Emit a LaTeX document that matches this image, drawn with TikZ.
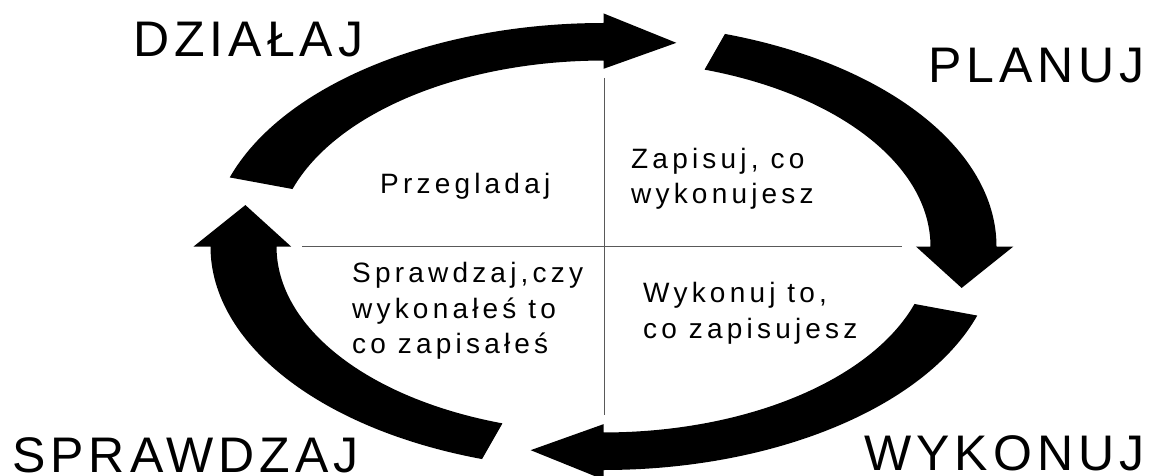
\documentclass[tikz,border=0pt]{standalone}
\usepackage{fontspec}
\setmainfont{Liberation Sans}
\newfontfamily\bigfnt[LetterSpace=10]{Liberation Sans}
\newfontfamily\smallfnt[LetterSpace=15]{Liberation Sans}
\newcommand\cyclearrow[1]{%
  \fill[cyclearrowstyle] (#1+72:1) arc[start angle=#1+72, end angle=#1, radius=1]
    -- (#1:1.043) -- (#1-11.5:0.93) -- (#1:0.795) -- (#1:0.832)
    arc[start angle=#1, end angle=#1+72, radius=0.832] -- cycle;}
\tikzset{
  cyclearrowstyle/.style={fill=black, draw=none},
  biglabel/.style={anchor=base west, inner sep=0pt, font=\bigfnt\fontsize{50}{60}\selectfont},
  quadtext/.style={anchor=base west, inner sep=0pt, font=\smallfnt\fontsize{28}{36}\selectfont},
  crossline/.style={draw=black!65, line width=1pt}
}
\begin{document}
\begin{tikzpicture}
\useasboundingbox (0,0) rectangle (1151pt,-476pt);
\fill[white] (0,0) rectangle (1151pt,-476pt);
% cross lines
\coordinate (hl) at (302pt,-246pt);
\coordinate (hr) at (902pt,-246pt);
\coordinate (vt) at (604pt,-78pt);
\coordinate (vb) at (604pt,-415pt);
\draw[crossline] (hl) -- (hr);
\draw[crossline] (vt) -- (vb);
% circular arrows
\begin{scope}[shift={(603.5pt,-246.5pt)}, x=393pt, y=223.5pt]
  \cyclearrow{90}
  \cyclearrow{0}
  \cyclearrow{-90}
  \cyclearrow{180}
\end{scope}
% big labels
\node[biglabel] (dzialaj) at (133pt,-57pt) {DZIAŁAJ};
\node[biglabel] (planuj) at (928pt,-83pt) {PLANUJ};
\node[biglabel] (sprawdzaj) at (12pt,-472pt) {SPRAWDZAJ};
\node[biglabel] (wykonuj) at (864pt,-470pt) {WYKONUJ};
% quadrant texts
\node[quadtext] (q1) at (380pt,-193pt) {Przegladaj};
\node[quadtext] (q2a) at (631pt,-168pt) {Zapisuj, co};
\node[quadtext] (q2b) at (631pt,-203pt) {wykonujesz};
\node[quadtext] (q3a) at (352pt,-282pt) {Sprawdzaj,czy};
\node[quadtext] (q3b) at (352pt,-318pt) {wykonałeś to};
\node[quadtext] (q3c) at (352pt,-353pt) {co zapisałeś};
\node[quadtext] (q4a) at (643pt,-302pt) {Wykonuj to,};
\node[quadtext] (q4b) at (643pt,-338pt) {co zapisujesz};
\end{tikzpicture}
\end{document}
